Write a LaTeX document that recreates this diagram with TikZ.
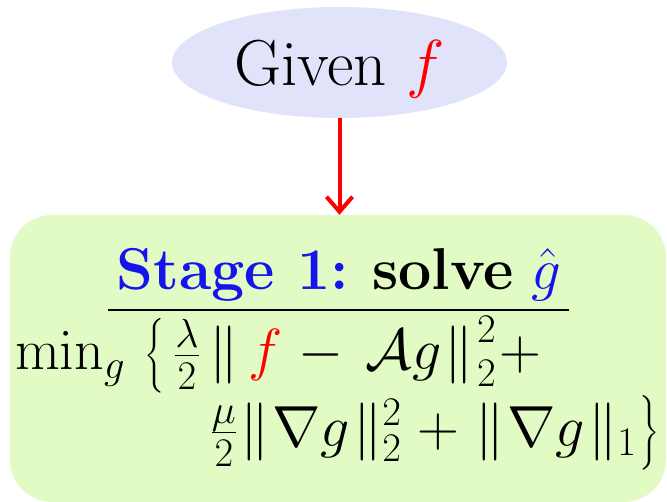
\documentclass[tikz,border=0pt]{standalone}
\usepackage{fix-cm}
\usepackage{amsmath}
\usetikzlibrary{shapes.geometric,arrows.meta}
\makeatletter
\newcommand\midbr{\bBigg@{1.12}}
\makeatother
\definecolor{ellfill}{RGB}{224,227,250}
\definecolor{boxfill}{RGB}{226,251,196}
\definecolor{titleblue}{RGB}{20,20,235}
\tikzset{
  given/.style={ellipse, fill=ellfill, minimum width=335pt, minimum height=111pt, inner sep=0pt, text depth=0pt},
  stagebox/.style={rectangle, rounded corners=42pt, fill=boxfill, minimum width=656pt, minimum height=287pt, inner sep=0pt},
  redarrow/.style={draw=red, line width=4pt, -{Straight Barb[length=15pt,width=26pt,line width=4pt]}},
  txt/.style={inner sep=0pt, font=\fontsize{58}{70}\selectfont},
}
\begin{document}
\begin{tikzpicture}[x=1pt,y=1pt]
\useasboundingbox (0,0) rectangle (667,502);
\node[given, font=\fontsize{65}{78}\selectfont] (g) at (339.5,439.5) {Given $\color{red}f$};
\node[stagebox] (s) at (338,143.5) {};
\draw[redarrow] (g.south) -- (g.south |- s.north);
\node[txt, anchor=base, font=\fontsize{59}{70}\selectfont] (t) at (339,212) {\textbf{\color{titleblue}Stage 1:} \textbf{solve} $\color{titleblue}\hat{g}$};
\coordinate (ul) at (108,192);
\coordinate (ur) at (569,192);
\draw[line width=2.3pt] (ul) -- (ur);
\node[txt, anchor=base west] (l1) at (15,132) {$\min_g \mkern3mu\big\{\mkern3mu \tfrac{\lambda}{2}\mkern3mu\|\mkern3mu{\color{red}f}\mkern1mu-\mkern3mu\mathcal{A}g\mkern1mu{\|\mkern1mu}_2^2\mkern1mu+$};
\node[txt, anchor=base east] (l2) at (660,55) {$\tfrac{\mu}{2}\mkern1mu\|\mkern1mu\nabla g\mkern1mu{\|}_2^2\mkern1mu+\mkern1mu\|\mkern1mu\nabla g\mkern1mu{\|}_1\mkern1mu\midbr\}$};
\end{tikzpicture}
\end{document}
